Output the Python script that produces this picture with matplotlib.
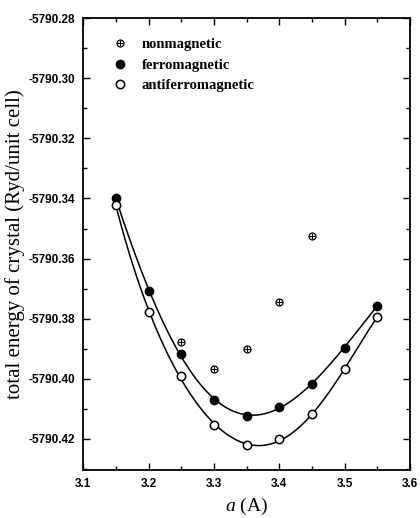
import numpy as np
import matplotlib
matplotlib.use("Agg")
import matplotlib.pyplot as plt
from matplotlib.ticker import MultipleLocator, FormatStrFormatter
from matplotlib.legend_handler import HandlerTuple

plt.rcParams["mathtext.fontset"] = "custom"
plt.rcParams["mathtext.it"] = "Liberation Serif:italic"
plt.rcParams["mathtext.rm"] = "Liberation Serif"

a_fm = [3.15, 3.20, 3.25, 3.30, 3.35, 3.40, 3.45, 3.50, 3.55]
e_fm = [-5790.3399, -5790.3707, -5790.3916, -5790.4071, -5790.4124,
        -5790.4093, -5790.4016, -5790.3896, -5790.3757]
a_afm = [3.15, 3.20, 3.25, 3.30, 3.35, 3.40, 3.45, 3.50, 3.55]
e_afm = [-5790.3422, -5790.3777, -5790.3991, -5790.4153, -5790.4222,
         -5790.4201, -5790.4118, -5790.3969, -5790.3794]
a_nm = [3.25, 3.30, 3.35, 3.40, 3.45]
e_nm = [-5790.3877, -5790.3969, -5790.3901, -5790.3746, -5790.3525]

labels = ["nonmagnetic", "ferromagnetic", "antiferromagnetic"]

fig = plt.figure(figsize=(4.2, 5.18), dpi=100)
ax = fig.add_axes([0.198, 0.093, 0.778, 0.872])

serif = "Liberation Serif"
sans = "Liberation Sans"

def fitcurve(x, y, deg=5):
    x = np.asarray(x); y = np.asarray(y)
    off = y.mean()
    p = np.polyfit(x - 3.35, y - off, deg)
    xs = np.linspace(x.min(), x.max(), 300)
    return xs, np.polyval(p, xs - 3.35) + off

xs, ys = fitcurve(a_fm, e_fm)
ax.plot(xs, ys, color="black", lw=1.1)
xs, ys = fitcurve(a_afm, e_afm)
ax.plot(xs, ys, color="black", lw=1.1)

h_fm, = ax.plot(a_fm, e_fm, "o", color="black", ms=6, zorder=3)
h_afm, = ax.plot(a_afm, e_afm, "o", mfc="white", mec="black", mew=1.1, ms=6, zorder=3)
h_nm1, = ax.plot(a_nm, e_nm, "o", mfc="white", mec="black", mew=0.9, ms=5, zorder=3)
h_nm2, = ax.plot(a_nm, e_nm, "+", color="black", mew=0.8, ms=5, zorder=4)

leg = ax.legend([(h_nm1, h_nm2), h_fm, h_afm], labels,
                handler_map={tuple: HandlerTuple(ndivide=1, pad=0)},
                loc="upper left", bbox_to_anchor=(0.05, 0.985), frameon=False,
                handlelength=1.0, handletextpad=1.0, labelspacing=0.5,
                prop={"family": serif, "weight": "bold", "size": 10.5})

ax.set_xlim(3.1, 3.6)
ax.set_ylim(-5790.4303, -5790.28)
ax.xaxis.set_major_locator(MultipleLocator(0.1))
ax.xaxis.set_minor_locator(MultipleLocator(0.05))
ax.yaxis.set_major_locator(MultipleLocator(0.02))
ax.yaxis.set_minor_locator(MultipleLocator(0.01))
ax.xaxis.set_major_formatter(FormatStrFormatter("%.1f"))
ax.yaxis.set_major_formatter(FormatStrFormatter("%.2f"))
ax.tick_params(which="both", direction="in", top=True, right=True, width=1.0)
ax.tick_params(which="major", length=5, labelsize=8.5, pad=6)
ax.tick_params(which="minor", length=3)
for lab in ax.get_xticklabels() + ax.get_yticklabels():
    lab.set_family(sans)
    lab.set_weight("bold")
for s in ax.spines.values():
    s.set_linewidth(1.3)

ax.set_ylabel("total energy of crystal (Ryd/unit cell)", family=serif, fontsize=15, labelpad=2)
ax.set_xlabel(r"$a$ (A)", family=serif, fontsize=14, labelpad=4)

fig.savefig("out.png", dpi=100)
